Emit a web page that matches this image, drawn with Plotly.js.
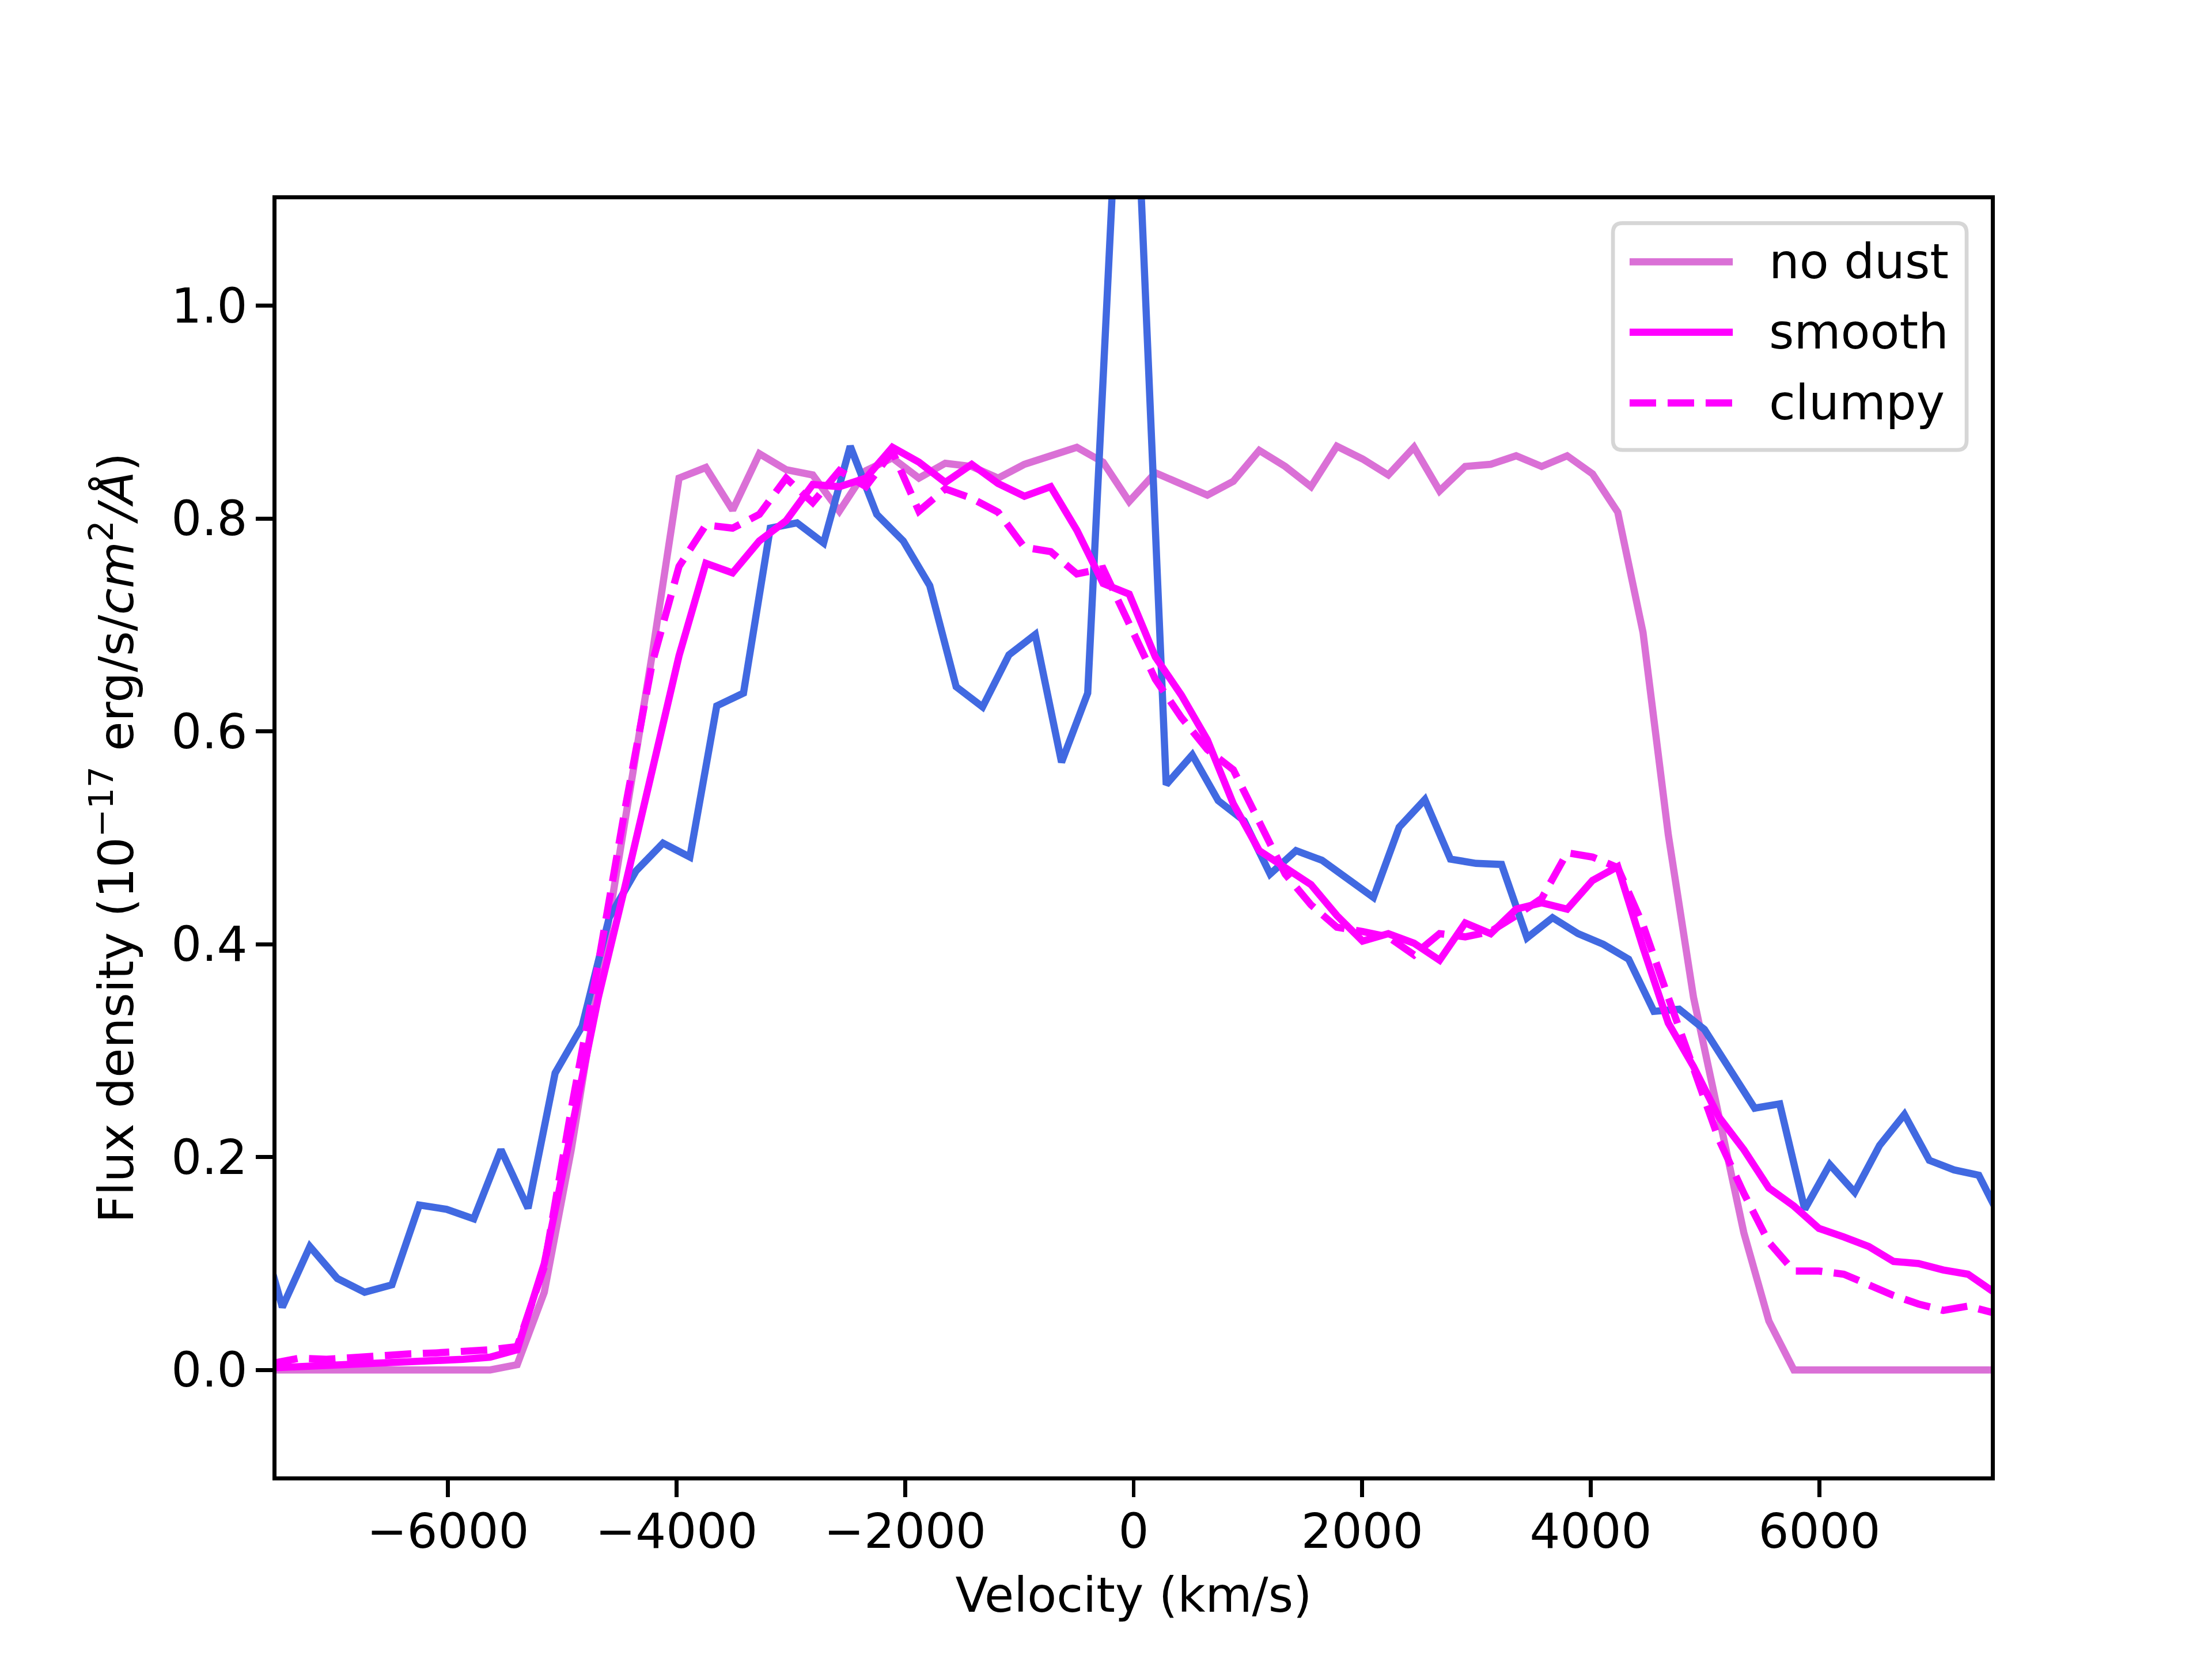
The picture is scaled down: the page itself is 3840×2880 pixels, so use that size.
<!DOCTYPE html>
<html>
<head>
<meta charset="utf-8">
<title>Line profile</title>
<script src="https://cdn.plot.ly/plotly-3.0.1.min.js"></script>
<style>
  html, body { margin: 0; padding: 0; background: #ffffff; overflow: hidden; }
  #myChart { width: 3840px; height: 2880px; }
</style>
</head>
<body>
<div id="myChart"></div>
<script>
// Model grid (km/s)
const velocityModel = [
    -7544, -7303, -7063, -6824, -6585, -6346, -6107, -5869, -5631, -5394,
    -5157, -4921, -4684, -4449, -4213, -3978, -3743, -3509, -3275, -3041,
    -2808, -2575, -2343, -2111, -1879, -1648, -1417, -1186, -956, -726,
    -497, -267, -39, 190, 418, 645, 872, 1099, 1326, 1552,
    1778, 2003, 2228, 2453, 2677, 2901, 3124, 3347, 3570, 3793,
    4015, 4236, 4457, 4678, 4899, 5119, 5339, 5558, 5777, 5996,
    6214, 6432, 6649, 6867, 7083, 7300, 7516
];
const fluxNoDust = [
    0, 0, 0, 0, 0, 0, 0, 0, 0, 0.005,
    0.073, 0.207, 0.362, 0.515, 0.672, 0.838, 0.848, 0.808, 0.861, 0.846,
    0.841, 0.807, 0.845, 0.857, 0.838, 0.852, 0.849, 0.838, 0.851, 0.859,
    0.867, 0.853, 0.816, 0.843, 0.833, 0.822, 0.835, 0.864, 0.849, 0.830,
    0.868, 0.856, 0.841, 0.867, 0.826, 0.849, 0.851, 0.859, 0.849, 0.859,
    0.842, 0.806, 0.693, 0.503, 0.350, 0.240, 0.129, 0.046, 0, 0,
    0, 0, 0, 0, 0, 0, 0
];
const fluxSmooth = [
    0.002, 0.003, 0.004, 0.005, 0.006, 0.008, 0.009, 0.010, 0.012, 0.019,
    0.100, 0.221, 0.350, 0.455, 0.563, 0.671, 0.758, 0.749, 0.779, 0.798,
    0.832, 0.830, 0.838, 0.867, 0.853, 0.834, 0.851, 0.833, 0.821, 0.830,
    0.789, 0.739, 0.729, 0.670, 0.634, 0.592, 0.532, 0.488, 0.472, 0.456,
    0.427, 0.403, 0.410, 0.401, 0.385, 0.420, 0.410, 0.433, 0.439, 0.433,
    0.460, 0.473, 0.397, 0.326, 0.285, 0.238, 0.207, 0.171, 0.154, 0.133,
    0.125, 0.116, 0.102, 0.100, 0.094, 0.090, 0.074
];
const fluxClumpy = [
    0.006, 0.011, 0.010, 0.012, 0.013, 0.015, 0.016, 0.017, 0.019, 0.022,
    0.097, 0.245, 0.382, 0.528, 0.664, 0.755, 0.794, 0.791, 0.804, 0.838,
    0.815, 0.845, 0.830, 0.863, 0.807, 0.828, 0.819, 0.806, 0.773, 0.769,
    0.748, 0.753, 0.702, 0.649, 0.613, 0.583, 0.564, 0.515, 0.466, 0.437,
    0.416, 0.412, 0.407, 0.390, 0.410, 0.407, 0.412, 0.427, 0.443, 0.486,
    0.482, 0.472, 0.418, 0.350, 0.283, 0.217, 0.166, 0.120, 0.093, 0.093,
    0.090, 0.080, 0.070, 0.062, 0.056, 0.060, 0.054
];

// Observed spectrum (own grid)
const velocityObs = [
    -7690, -7449, -7208, -6968, -6729, -6490, -6251, -6012, -5774, -5536,
    -5299, -5062, -4826, -4589, -4354, -4118, -3883, -3648, -3414, -3180,
    -2946, -2713, -2480, -2248, -2016, -1784, -1553, -1322, -1091, -861,
    -631, -402, -172, 56, 285, 513, 740, 967, 1194, 1421,
    1647, 1873, 2098, 2323, 2548, 2772, 2996, 3219, 3442, 3665,
    3888, 4110, 4331, 4552, 4773, 4994, 5214, 5434, 5653, 5872,
    6091, 6309, 6527, 6744, 6962, 7178, 7395, 7611
];
const fluxObs = [
    0.150, 0.059, 0.116, 0.086, 0.073, 0.080, 0.155, 0.151, 0.142, 0.207,
    0.152, 0.279, 0.323, 0.425, 0.469, 0.495, 0.482, 0.624, 0.636, 0.791,
    0.796, 0.777, 0.868, 0.804, 0.779, 0.737, 0.642, 0.623, 0.672, 0.691,
    0.571, 0.636, 1.140, 1.130, 0.550, 0.578, 0.535, 0.516, 0.466, 0.488,
    0.479, 0.461, 0.444, 0.510, 0.536, 0.480, 0.476, 0.475, 0.406, 0.425,
    0.410, 0.400, 0.386, 0.337, 0.339, 0.320, 0.283, 0.246, 0.250, 0.151,
    0.193, 0.167, 0.211, 0.240, 0.197, 0.188, 0.183, 0.137
];

const xTickVals = [-6000, -4000, -2000, 0, 2000, 4000, 6000];
const xTickText = ['\u22126000', '\u22124000', '\u22122000', '0', '2000', '4000', '6000'];
const yTickVals = [0, 0.2, 0.4, 0.6, 0.8, 1.0];
const yTickText = ['0.0', '0.2', '0.4', '0.6', '0.8', '1.0'];

const legendNames = ['no dust', 'smooth', 'clumpy'];

// matplotlib-like sizes at 600 dpi
const FONT = 83.3, LW = 12.5, SPINE = 6.7, TICKLEN = 29;
const C_NODUST = '#DA70D6', C_MODEL = '#FF00FF', C_OBS = '#4169E1';
const DASH = '46px,20px';

const traces = [
    { x: velocityModel, y: fluxNoDust, name: legendNames[0], type: 'scatter', mode: 'lines',
      line: { color: C_NODUST, width: LW } },
    { x: velocityObs, y: fluxObs, name: 'observed', type: 'scatter', mode: 'lines',
      line: { color: C_OBS, width: LW } },
    { x: velocityModel, y: fluxSmooth, name: legendNames[1], type: 'scatter', mode: 'lines',
      line: { color: C_MODEL, width: LW } },
    { x: velocityModel, y: fluxClumpy, name: legendNames[2], type: 'scatter', mode: 'lines',
      line: { color: C_MODEL, width: LW, dash: DASH } }
];

// Legend drawn by hand so the handles get matplotlib's length
const box = { x0: 0.7796, x1: 0.9859, y0: 0.8037, y1: 0.9813, rx: 0.0056, ry: 0.0075 };
const roundedBox = `M ${box.x0 + box.rx},${box.y1} L ${box.x1 - box.rx},${box.y1} ` +
    `Q ${box.x1},${box.y1} ${box.x1},${box.y1 - box.ry} L ${box.x1},${box.y0 + box.ry} ` +
    `Q ${box.x1},${box.y0} ${box.x1 - box.rx},${box.y0} L ${box.x0 + box.rx},${box.y0} ` +
    `Q ${box.x0},${box.y0} ${box.x0},${box.y0 + box.ry} L ${box.x0},${box.y1 - box.ry} ` +
    `Q ${box.x0},${box.y1} ${box.x0 + box.rx},${box.y1} Z`;
const rowY = [0.9511, 0.8959, 0.8405];
const handleStyles = [
    { color: C_NODUST, width: LW },
    { color: C_MODEL, width: LW },
    { color: C_MODEL, width: LW, dash: DASH }
];
const shapes = [{
    type: 'path', xref: 'paper', yref: 'paper', path: roundedBox,
    fillcolor: 'rgba(255,255,255,0.8)', line: { color: 'rgba(204,204,204,0.8)', width: SPINE }, layer: 'above'
}];
const annotations = [];
legendNames.forEach((name, i) => {
    shapes.push({ type: 'line', xref: 'paper', yref: 'paper', x0: 0.7893, x1: 0.8495,
        y0: rowY[i], y1: rowY[i], line: handleStyles[i], layer: 'above' });
    annotations.push({ xref: 'paper', yref: 'paper', x: 0.8700, y: rowY[i], xanchor: 'left', yanchor: 'middle',
        text: name, showarrow: false, font: { size: FONT, color: '#000000' } });
});

const axisCommon = {
    showgrid: false, zeroline: false, showline: true, mirror: true,
    linecolor: '#000000', linewidth: SPINE,
    ticks: 'outside', ticklen: TICKLEN, tickwidth: SPINE, tickcolor: '#000000',
    tickfont: { size: FONT, color: '#000000' }, automargin: false
};

const layout = {
    width: 3840, height: 2880,
    margin: { l: 480, r: 384, t: 345.6, b: 316.8, pad: 0 },
    paper_bgcolor: '#ffffff', plot_bgcolor: '#ffffff',
    font: { family: 'DejaVu Sans, sans-serif', size: FONT, color: '#000000' },
    showlegend: false,
    xaxis: Object.assign({}, axisCommon, {
        range: [-7500, 7500], tickmode: 'array', tickvals: xTickVals, ticktext: xTickText,
        ticklabelstandoff: -12,
        title: { text: 'Velocity (km/s)', font: { size: FONT }, standoff: 36 }
    }),
    yaxis: Object.assign({}, axisCommon, {
        range: [-0.1, 1.1], tickmode: 'array', tickvals: yTickVals, ticktext: yTickText,
        ticklabelstandoff: -2,
        title: { text: 'Flux density (10<sup>\u221217</sup> erg/s/<i>cm</i><sup>2</sup><i>/\u00C5</i>)',
                 font: { size: FONT }, standoff: 40 }
    }),
    shapes: shapes,
    annotations: annotations
};

Plotly.newPlot('myChart', traces, layout, { staticPlot: true, displayModeBar: false });
</script>
</body>
</html>
